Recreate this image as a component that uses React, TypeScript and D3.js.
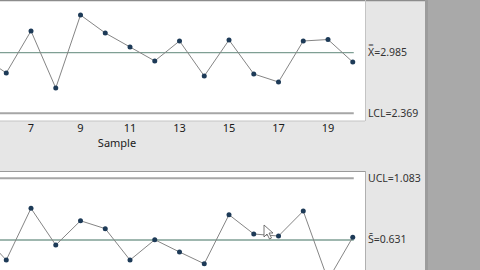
import React from "react";
import * as d3 from "d3";

const samples = [5, 6, 7, 8, 9, 10, 11, 12, 13, 14, 15, 16, 17, 18, 19, 20];
const xbarValues = [2.95, 2.779, 3.206, 2.626, 3.368, 3.185, 3.043, 2.901, 3.104, 2.748, 3.114, 2.769, 2.687, 3.104, 3.119, 2.89];
const sValues = [0.679, 0.484, 0.863, 0.594, 0.772, 0.714, 0.484, 0.633, 0.543, 0.457, 0.816, 0.675, 0.66, 0.843, 0.338, 0.651];
const tickSamples = [7, 9, 11, 13, 15, 17, 19];
const xbarCL = 2.985;
const xbarLCL = 2.369;
const sCL = 0.631;
const sUCL = 1.083;

const W = 480;
const H = 270;
const font = "'Noto Sans', 'Open Sans', sans-serif";

export default function App() {
  const x = d3.scaleLinear().domain([6, 20]).range([6.25, 352.75]);
  const yTop = d3.scaleLinear().domain([xbarLCL, xbarCL]).range([113.3, 52.7]);
  const yBot = d3.scaleLinear().domain([sCL, sUCL]).range([240, 178.3]);

  const lineTop = d3.line<number>().x((_, i) => x(samples[i])).y((d) => yTop(d));
  const lineBot = d3.line<number>().x((_, i) => x(samples[i])).y((d) => yBot(d));

  const xEnd = x(20) + 1;
  const xStart = x(5) - 10;

  return (
    <svg
      width={W}
      height={H}
      style={{ position: "fixed", left: 0, top: 0, display: "block" }}
      xmlns="http://www.w3.org/2000/svg"
    >
      <defs>
        <clipPath id="clipTop">
          <rect x={0} y={1} width={365} height={120} />
        </clipPath>
        <clipPath id="clipBot">
          <rect x={0} y={172} width={365} height={100} />
        </clipPath>
      </defs>
      {/* backgrounds */}
      <rect x={0} y={0} width={W} height={H} fill="#e6e6e6" />
      <rect x={425} y={0} width={55} height={H} fill="#a9a9a9" />
      <rect x={425} y={0} width={3} height={H} fill="#9c9c9c" />
      {/* top plot */}
      <rect x={0} y={0} width={365} height={121} fill="#ffffff" />
      <line x1={0} x2={425} y1={0.5} y2={0.5} stroke="#8c8c8c" strokeWidth={1.5} />
      <line x1={0} x2={365} y1={121} y2={121} stroke="#c4c4c4" strokeWidth={1} />
      <line x1={365.5} x2={365.5} y1={0} y2={121} stroke="#c4c4c4" strokeWidth={1} />
      <g clipPath="url(#clipTop)">
        <line x1={xStart} x2={xEnd} y1={yTop(xbarCL)} y2={yTop(xbarCL)} stroke="#7f9f94" strokeWidth={1.3} />
        <line x1={xStart} x2={xEnd} y1={yTop(xbarLCL)} y2={yTop(xbarLCL)} stroke="#a6a6a6" strokeWidth={2} />
        <path d={lineTop(xbarValues) || ""} fill="none" stroke="#858585" strokeWidth={1} />
        {xbarValues.map((v, i) => (
          <circle key={i} cx={x(samples[i])} cy={yTop(v)} r={2.5} fill="#1d3a57" />
        ))}
      </g>
      {/* x axis labels */}
      {tickSamples.map((t) => (
        <text key={t} x={x(t)} y={132} textAnchor="middle" fontFamily={font} fontSize={11} fill="#1a1a1a">
          {t}
        </text>
      ))}
      <text x={117} y={147} textAnchor="middle" fontFamily={font} fontSize={11} fill="#1a1a1a">
        Sample
      </text>
      <text x={368} y={56} fontFamily={font} fontSize={10.5} fill="#333">
        {"X\u033F=2.985"}
      </text>
      <text x={368} y={117} fontFamily={font} fontSize={10.5} fill="#333">
        LCL=2.369
      </text>
      {/* bottom plot */}
      <rect x={0} y={171} width={365} height={H - 171} fill="#ffffff" />
      <line x1={0} x2={365} y1={171.5} y2={171.5} stroke="#9a9a9a" strokeWidth={1.2} />
      <line x1={365.5} x2={365.5} y1={171} y2={H} stroke="#b0b0b0" strokeWidth={1} />
      <g clipPath="url(#clipBot)">
        <line x1={xStart} x2={xEnd} y1={yBot(sCL)} y2={yBot(sCL)} stroke="#7f9f94" strokeWidth={1.3} />
        <line x1={xStart} x2={xEnd} y1={yBot(sUCL)} y2={yBot(sUCL)} stroke="#a6a6a6" strokeWidth={2} />
        <path d={lineBot(sValues) || ""} fill="none" stroke="#858585" strokeWidth={1} />
        {sValues.map((v, i) => (
          <circle key={i} cx={x(samples[i])} cy={yBot(v)} r={2.5} fill="#1d3a57" />
        ))}
      </g>
      <text x={368} y={182} fontFamily={font} fontSize={10.5} fill="#333">
        UCL=1.083
      </text>
      <text x={368} y={243} fontFamily={font} fontSize={10.5} fill="#333">
        {"S\u0304=0.631"}
      </text>
      {/* mouse pointer */}
      <path
        d="M264,225 L264,237 L267,234 L269.5,239 L271.5,238 L269,233 L273,233 Z"
        fill="#ffffff"
        stroke="#555"
        strokeWidth={0.8}
      />
    </svg>
  );
}
